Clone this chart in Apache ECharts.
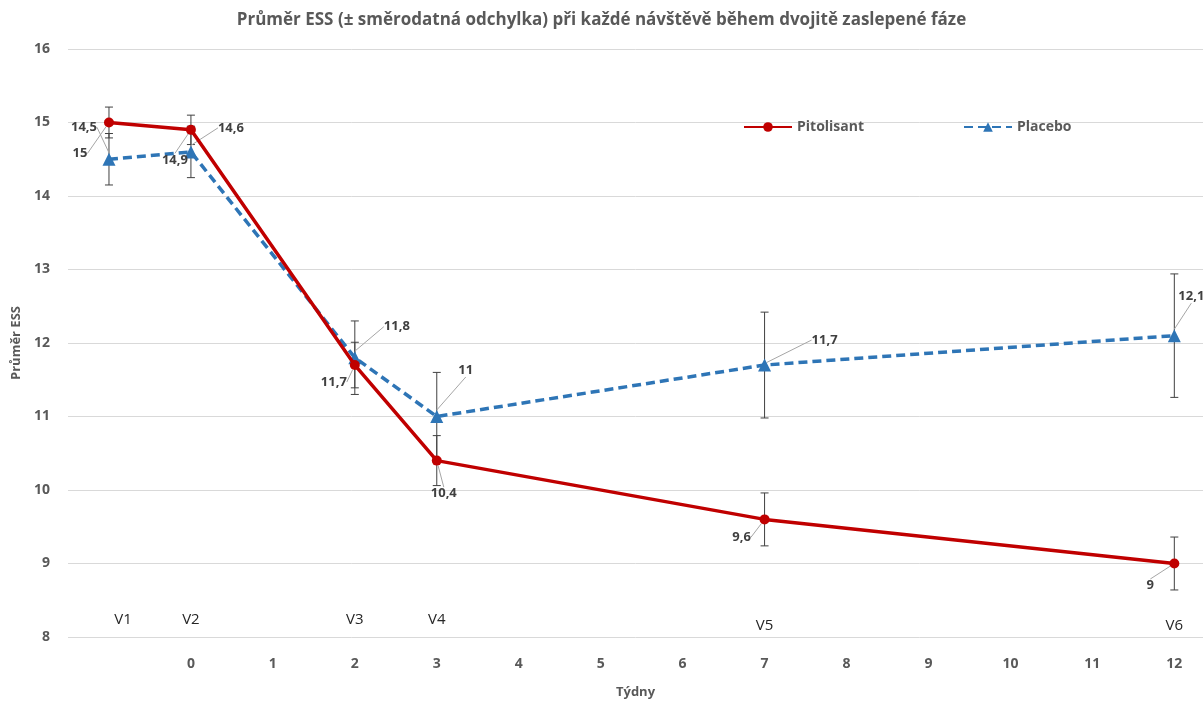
<!DOCTYPE html>
<html>
<head>
<meta charset="utf-8">
<script src="https://cdn.jsdelivr.net/npm/echarts@6/dist/echarts.min.js"></script>
<style>
  html, body { margin: 0; padding: 0; background: #fff; }
  #main { width: 1203px; height: 701px; }
</style>
</head>
<body>
<div id="main"></div>
<script>
// weeks of each visit (V1 is the screening visit before week 0)
var visits = ['V1', 'V2', 'V3', 'V4', 'V5', 'V6'];
var weeks = [-1, 0, 2, 3, 7, 12];
var weekTicks = [0, 1, 2, 3, 4, 5, 6, 7, 8, 9, 10, 11, 12];

var pitolisantMean = [15, 14.9, 11.7, 10.4, 9.6, 9];
var pitolisantSD = [0.21, 0.2, 0.31, 0.34, 0.36, 0.36];
var placeboMean = [14.5, 14.6, 11.8, 11, 11.7, 12.1];
var placeboSD = [0.35, 0.35, 0.5, 0.6, 0.72, 0.84];

// label displacement (px) from each point, like the hand-moved Excel labels
var pitLabelShift = [[-29, 31], [-16, 30], [-21, 17], [7, 33], [-23, 18], [-24, 22]];
var plaLabelShift = [[-25, -32], [40, -24], [42, -31], [29, -46], [60, -25], [17, -39]];

var FONT = '"Open Sans", "DejaVu Sans", sans-serif';
var RED = '#C00000';
var BLUE = '#2E75B6';

var myChart = echarts.init(document.getElementById('main'));

function pairs(ys) {
  return weeks.map(function (w, i) { return [w, ys[i]]; });
}
function bars(ys, sd) {
  return weeks.map(function (w, i) { return [w, ys[i] - sd[i], ys[i] + sd[i]]; });
}
function comma(p) {
  return String(p.value[1]).replace('.', ',');
}

function errorBar(params, api) {
  var x = api.value(0);
  var top = api.coord([x, api.value(2)]);
  var bot = api.coord([x, api.value(1)]);
  var st = { stroke: '#404040', lineWidth: 1 };
  return {
    type: 'group',
    children: [
      { type: 'line', shape: { x1: top[0], y1: top[1], x2: bot[0], y2: bot[1] }, style: st },
      { type: 'line', shape: { x1: top[0] - 4, y1: top[1], x2: top[0] + 4, y2: top[1] }, style: st },
      { type: 'line', shape: { x1: bot[0] - 4, y1: bot[1], x2: bot[0] + 4, y2: bot[1] }, style: st }
    ]
  };
}

var labelStyle = {
  show: true,
  position: 'inside',
  formatter: comma,
  fontFamily: FONT,
  fontWeight: 'bold',
  fontSize: 13,
  color: '#404040'
};

var option = {
  backgroundColor: '#fff',
  animation: false,
  textStyle: { fontFamily: FONT },
  title: {
    text: 'Průměr ESS (± směrodatná odchylka) při každé návštěvě během dvojitě zaslepené fáze',
    left: 'center',
    top: 7,
    textStyle: { fontFamily: FONT, fontSize: 17, fontWeight: 'bold', color: '#595959' }
  },
  legend: [
    {
      left: 738, top: 115,
      data: ['Pitolisant'],
      itemWidth: 48, itemHeight: 12,
      textStyle: { fontFamily: FONT, fontSize: 14, fontWeight: 'bold', color: '#595959' }
    },
    {
      left: 958, top: 115,
      data: ['Placebo'],
      itemWidth: 48, itemHeight: 12,
      textStyle: { fontFamily: FONT, fontSize: 14, fontWeight: 'bold', color: '#595959' }
    }
  ],
  grid: { left: 68, right: 0, top: 49, bottom: 64, containLabel: false, outerBoundsMode: 'none' },
  xAxis: {
    type: 'value',
    min: -1.5,
    max: 12.35,
    name: 'Týdny',
    nameLocation: 'middle',
    nameGap: 49,
    nameTextStyle: { fontFamily: FONT, fontSize: 13, fontWeight: 'bold', color: '#595959' },
    axisLine: { show: false },
    axisTick: { show: false },
    splitLine: { show: false },
    axisLabel: {
      customValues: weekTicks,
      margin: 20,
      fontFamily: FONT, fontSize: 14, fontWeight: 'bold', color: '#595959'
    }
  },
  yAxis: {
    type: 'value',
    min: 8,
    max: 16,
    interval: 1,
    name: 'Průměr ESS',
    nameLocation: 'middle',
    nameGap: 44,
    nameTextStyle: { fontFamily: FONT, fontSize: 13, fontWeight: 'bold', color: '#595959' },
    axisLine: { show: false },
    axisTick: { show: false },
    splitLine: { lineStyle: { color: '#d9d9d9', width: 1 } },
    axisLabel: { margin: 18, fontFamily: FONT, fontSize: 14, fontWeight: 'bold', color: '#595959' }
  },
  series: [
    {
      name: 'Pitolisant SD',
      type: 'custom',
      renderItem: errorBar,
      data: bars(pitolisantMean, pitolisantSD),
      z: 1,
      silent: true
    },
    {
      name: 'Placebo SD',
      type: 'custom',
      renderItem: errorBar,
      data: bars(placeboMean, placeboSD),
      z: 1,
      silent: true
    },
    {
      name: 'Placebo',
      type: 'line',
      data: pairs(placeboMean),
      symbol: 'triangle',
      symbolSize: 13,
      itemStyle: { color: BLUE },
      lineStyle: { color: BLUE, width: 3.5, type: [9, 5] },
      label: labelStyle,
      labelLine: { show: true, lineStyle: { color: '#a6a6a6', width: 1 } },
      labelLayout: function (p) {
        var s = plaLabelShift[p.dataIndex];
        return { dx: s[0], dy: s[1] };
      },
      z: 3
    },
    {
      name: 'Pitolisant',
      type: 'line',
      data: pairs(pitolisantMean),
      symbol: 'circle',
      symbolSize: 10,
      itemStyle: { color: RED },
      lineStyle: { color: RED, width: 3.5 },
      label: labelStyle,
      labelLine: { show: true, lineStyle: { color: '#a6a6a6', width: 1 } },
      labelLayout: function (p) {
        var s = pitLabelShift[p.dataIndex];
        return { dx: s[0], dy: s[1] };
      },
      z: 4
    },
    {
      name: 'Návštěvy',
      type: 'scatter',
      symbolSize: 0,
      silent: true,
      itemStyle: { opacity: 1 },
      data: weeks.map(function (w, i) {
        return {
          value: [w, i < 4 ? 8.23 : 8.15],
          label: { offset: [i === 0 ? 14 : 0, 0] }
        };
      }),
      label: {
        show: true,
        position: 'inside',
        formatter: function (p) { return visits[p.dataIndex]; },
        fontFamily: FONT,
        fontSize: 15,
        color: '#262626',
        opacity: 1
      },
      z: 2
    }
  ]
};

myChart.setOption(option);
</script>
</body>
</html>
